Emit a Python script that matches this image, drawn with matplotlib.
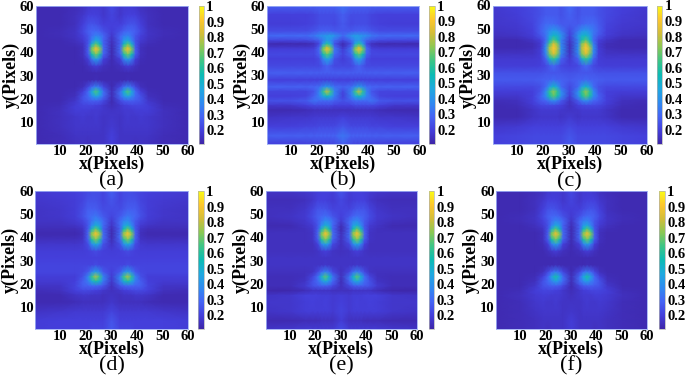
import numpy as np
import matplotlib
matplotlib.use('Agg')
import matplotlib.pyplot as plt
from matplotlib.colors import LinearSegmentedColormap

plt.rcParams['font.family'] = ['Liberation Serif', 'DejaVu Serif']

# nodes of the tables below: left half of each map, right half is its mirror
x_half = [0.5, 10, 16, 19, 21, 22.5, 24, 25.5, 27, 30.25]
y_nodes = [60, 56, 52, 49, 47, 45, 43.5, 42, 41, 39, 37, 34, 31, 28, 25, 23, 21, 19, 17, 15, 12, 8, 4, 0.5]

# values, in hundredths
panel_a = [
    [13, 13, 14, 15, 17, 18, 18, 18, 17, 22],
    [13, 13, 15, 17, 20, 20, 20, 19, 17, 21],
    [13, 13, 15, 20, 24, 25, 24, 22, 20, 20],
    [13, 14, 16, 22, 27, 29, 30, 28, 24, 19],
    [13, 14, 16, 20, 25, 31, 36, 34, 29, 17],
    [13, 13, 15, 18, 24, 36, 48, 42, 28, 15],
    [13, 13, 14, 16, 25, 50, 68, 54, 28, 14],
    [13, 13, 13, 15, 26, 68, 84, 70, 30, 13],
    [13, 13, 13, 15, 27, 72, 88, 74, 30, 13],
    [13, 13, 13, 15, 26, 56, 70, 58, 28, 13],
    [13, 13, 13, 14, 19, 34, 44, 36, 20, 13],
    [13, 13, 13, 13, 15, 17, 19, 17, 15, 13],
    [13, 13, 13, 13, 13, 13, 13, 13, 13, 13],
    [13, 13, 13, 13, 13, 13, 14, 13, 13, 13],
    [13, 13, 13, 15, 22, 30, 36, 31, 22, 13],
    [13, 13, 14, 20, 30, 48, 66, 50, 31, 14],
    [13, 13, 15, 24, 30, 38, 46, 40, 30, 14],
    [13, 13, 17, 24, 26, 27, 27, 26, 22, 13],
    [13, 14, 19, 21, 21, 21, 20, 19, 17, 14],
    [13, 15, 19, 19, 19, 18, 18, 18, 17, 16],
    [13, 15, 17, 18, 17, 17, 18, 17, 16, 17],
    [13, 15, 17, 17, 17, 17, 17, 17, 16, 18],
    [13, 14, 16, 16, 16, 16, 16, 16, 16, 20],
    [13, 14, 15, 16, 15, 16, 16, 16, 16, 20],
]
panel_b = [
    [27, 27, 27, 27, 28, 28, 28, 28, 28, 32],
    [20, 20, 20, 21, 23, 23, 23, 23, 23, 27],
    [19, 19, 20, 21, 23, 23, 23, 23, 22, 26],
    [23, 23, 23, 25, 27, 28, 28, 27, 26, 26],
    [30, 30, 30, 33, 38, 40, 42, 44, 40, 30],
    [21, 21, 22, 24, 27, 34, 42, 38, 30, 21],
    [13, 13, 13, 15, 22, 42, 60, 46, 24, 13],
    [17, 17, 17, 18, 28, 66, 82, 68, 30, 16],
    [20, 20, 20, 21, 30, 72, 88, 74, 33, 19],
    [22, 22, 22, 22, 28, 56, 68, 58, 30, 21],
    [20, 20, 20, 20, 23, 36, 46, 38, 24, 19],
    [22, 22, 22, 22, 22, 25, 28, 25, 22, 22],
    [27, 27, 27, 27, 27, 27, 27, 27, 27, 27],
    [20, 20, 20, 20, 20, 20, 20, 20, 20, 20],
    [28, 28, 28, 29, 31, 37, 42, 37, 31, 28],
    [21, 21, 21, 25, 36, 62, 80, 64, 36, 21],
    [20, 20, 21, 28, 36, 46, 54, 46, 34, 20],
    [24, 24, 26, 32, 30, 30, 30, 30, 27, 24],
    [17, 17, 20, 22, 22, 22, 22, 22, 20, 20],
    [13, 13, 14, 15, 15, 15, 15, 15, 15, 15],
    [16, 17, 17, 18, 18, 18, 18, 18, 18, 20],
    [20, 20, 21, 21, 22, 22, 22, 22, 22, 25],
    [27, 27, 27, 27, 28, 28, 28, 28, 28, 33],
    [20, 20, 20, 21, 21, 21, 21, 21, 22, 27],
]
panel_c = [
    [18, 20, 22, 24, 26, 26, 26, 26, 24, 30],
    [17, 19, 22, 24, 26, 26, 26, 26, 24, 28],
    [17, 18, 21, 26, 30, 30, 30, 28, 26, 26],
    [16, 17, 20, 27, 33, 38, 42, 40, 33, 22],
    [15, 16, 19, 25, 32, 44, 52, 50, 40, 20],
    [13, 13, 16, 20, 30, 52, 68, 58, 36, 17],
    [13, 13, 14, 18, 34, 66, 84, 72, 36, 15],
    [13, 13, 14, 18, 38, 76, 90, 78, 38, 15],
    [14, 14, 15, 19, 38, 78, 90, 78, 38, 15],
    [16, 16, 16, 19, 36, 70, 84, 72, 36, 16],
    [18, 18, 18, 19, 28, 50, 62, 50, 28, 18],
    [19, 19, 19, 20, 22, 26, 30, 26, 22, 20],
    [24, 24, 24, 24, 25, 25, 25, 25, 25, 24],
    [26, 26, 26, 27, 28, 28, 30, 28, 28, 26],
    [22, 22, 22, 24, 30, 42, 52, 44, 30, 22],
    [19, 19, 20, 25, 38, 62, 74, 62, 38, 21],
    [17, 17, 20, 28, 38, 58, 68, 58, 38, 19],
    [14, 15, 20, 26, 29, 34, 38, 34, 26, 16],
    [13, 14, 18, 21, 22, 22, 22, 21, 20, 15],
    [13, 13, 16, 18, 18, 18, 18, 18, 17, 16],
    [13, 13, 16, 17, 17, 17, 17, 17, 16, 18],
    [17, 18, 20, 20, 20, 20, 20, 20, 20, 22],
    [20, 21, 22, 22, 22, 22, 22, 22, 22, 25],
    [20, 21, 22, 22, 22, 22, 22, 22, 22, 26],
]
panel_d = [
    [18, 19, 20, 21, 22, 23, 23, 23, 21, 27],
    [17, 18, 19, 21, 24, 24, 24, 23, 21, 25],
    [16, 17, 19, 23, 27, 27, 27, 25, 23, 23],
    [16, 17, 19, 24, 29, 31, 33, 30, 26, 21],
    [16, 16, 18, 21, 26, 32, 38, 36, 30, 18],
    [15, 15, 16, 18, 25, 38, 50, 44, 30, 16],
    [14, 14, 14, 16, 26, 52, 70, 56, 28, 14],
    [13, 13, 13, 15, 28, 70, 86, 72, 30, 13],
    [13, 13, 13, 15, 28, 74, 88, 76, 31, 13],
    [15, 15, 15, 16, 27, 58, 72, 60, 29, 14],
    [17, 17, 17, 18, 23, 38, 48, 40, 24, 16],
    [19, 19, 19, 19, 20, 21, 23, 21, 20, 19],
    [20, 20, 20, 20, 20, 20, 20, 20, 20, 20],
    [21, 21, 21, 21, 21, 21, 23, 21, 21, 21],
    [21, 21, 21, 22, 26, 36, 44, 37, 26, 20],
    [19, 19, 19, 24, 36, 62, 78, 64, 36, 18],
    [18, 18, 20, 27, 34, 48, 58, 50, 33, 17],
    [16, 16, 21, 27, 28, 29, 30, 28, 25, 15],
    [14, 15, 20, 22, 22, 21, 20, 19, 17, 15],
    [13, 13, 16, 17, 17, 16, 16, 16, 15, 16],
    [13, 13, 14, 15, 15, 15, 15, 15, 15, 17],
    [16, 17, 18, 18, 18, 18, 18, 18, 18, 21],
    [19, 20, 20, 20, 20, 20, 20, 20, 20, 25],
    [19, 20, 20, 20, 20, 21, 21, 21, 21, 26],
]
panel_e = [
    [16, 16, 17, 18, 19, 20, 20, 20, 19, 25],
    [14, 14, 15, 17, 20, 20, 20, 19, 18, 22],
    [15, 15, 17, 21, 25, 25, 25, 23, 21, 21],
    [15, 16, 18, 23, 27, 29, 31, 29, 25, 20],
    [14, 15, 17, 21, 26, 32, 38, 36, 30, 18],
    [13, 13, 16, 18, 25, 38, 50, 44, 29, 14],
    [14, 14, 15, 17, 26, 52, 70, 56, 28, 13],
    [15, 15, 15, 16, 28, 68, 86, 72, 30, 14],
    [15, 15, 15, 16, 28, 72, 88, 74, 31, 15],
    [15, 15, 15, 16, 26, 58, 72, 60, 28, 15],
    [15, 15, 15, 15, 20, 36, 46, 38, 22, 15],
    [15, 15, 15, 15, 16, 18, 20, 18, 16, 15],
    [16, 16, 16, 16, 16, 16, 16, 16, 16, 16],
    [16, 16, 16, 16, 16, 16, 17, 16, 16, 16],
    [15, 15, 15, 16, 22, 30, 36, 31, 22, 15],
    [14, 14, 15, 21, 31, 50, 68, 52, 32, 15],
    [14, 14, 16, 24, 30, 39, 48, 40, 29, 14],
    [14, 14, 18, 24, 26, 27, 27, 26, 22, 15],
    [12, 12, 14, 16, 16, 16, 16, 16, 15, 15],
    [16, 17, 20, 20, 20, 19, 19, 19, 18, 19],
    [17, 17, 19, 20, 19, 19, 20, 19, 18, 20],
    [16, 17, 19, 19, 19, 19, 19, 19, 18, 21],
    [13, 13, 14, 14, 14, 15, 15, 15, 15, 19],
    [16, 17, 18, 18, 18, 18, 18, 18, 18, 23],
]
panel_f = [
    [13, 13, 14, 15, 17, 18, 18, 18, 17, 22],
    [13, 13, 15, 17, 20, 20, 20, 19, 17, 21],
    [13, 13, 15, 20, 24, 25, 24, 22, 20, 19],
    [13, 14, 16, 22, 27, 29, 30, 28, 24, 18],
    [13, 14, 16, 20, 25, 31, 36, 34, 29, 16],
    [13, 13, 15, 18, 24, 36, 48, 42, 28, 14],
    [13, 13, 14, 16, 25, 50, 68, 54, 28, 13],
    [13, 13, 13, 15, 26, 68, 84, 70, 30, 13],
    [13, 13, 13, 15, 27, 72, 86, 74, 30, 13],
    [13, 13, 13, 15, 26, 56, 70, 58, 28, 13],
    [13, 13, 13, 14, 19, 34, 44, 36, 20, 13],
    [13, 13, 13, 13, 15, 17, 19, 17, 15, 13],
    [13, 13, 13, 13, 13, 13, 13, 13, 13, 13],
    [13, 13, 13, 13, 13, 13, 14, 13, 13, 13],
    [13, 13, 13, 15, 22, 29, 34, 30, 22, 13],
    [13, 13, 14, 20, 29, 44, 58, 46, 30, 14],
    [13, 13, 15, 24, 30, 36, 44, 38, 30, 14],
    [13, 13, 17, 24, 26, 27, 27, 26, 22, 13],
    [13, 14, 19, 21, 21, 21, 20, 19, 17, 14],
    [13, 15, 18, 19, 19, 18, 18, 18, 17, 15],
    [13, 14, 17, 18, 17, 17, 18, 17, 16, 16],
    [13, 14, 16, 17, 17, 17, 17, 17, 16, 17],
    [13, 14, 15, 16, 16, 16, 16, 16, 16, 19],
    [13, 14, 15, 16, 15, 16, 16, 16, 16, 19],
]

letters = ['(a)', '(b)', '(c)', '(d)', '(e)', '(f)']
xy_ticks = [10, 20, 30, 40, 50, 60]
cb_ticks = [0.2, 0.3, 0.4, 0.5, 0.6, 0.7, 0.8, 0.9, 1]
cb_labels = ['0.2', '0.3', '0.4', '0.5', '0.6', '0.7', '0.8', '0.9', '1']

# parula
parula = LinearSegmentedColormap.from_list('parula', [
    '#3E26A8', '#4440DC', '#4565F5', '#2F8BF0', '#1FA9DF', '#0CBBB4',
    '#3CC587', '#8AC855', '#D2BD3A', '#FDC72E', '#F9FB15'])

W, H = 685.0, 376.0
# left, right, top, bottom of map, then colorbar left, right, in pixels
boxes = [
    (35.7, 188, 6, 144, 198.5, 204),
    (266.7, 419.3, 5.7, 144, 429.3, 435),
    (492.7, 646.7, 5.5, 144, 656.7, 662.3),
    (35.3, 188, 191, 329, 198.3, 204),
    (265.7, 416.7, 191, 329, 428.7, 434.3),
    (496, 646.7, 191, 329, 659, 665),
]

fig = plt.figure(figsize=(6.85, 3.76), dpi=100)

panels = [panel_a, panel_b, panel_c, panel_d, panel_e, panel_f]
x_nodes = np.array(x_half + [60.5 - v for v in x_half[-2::-1]])

for i in range(6):
    l, r, t, b, cl, cr = boxes[i]
    half = np.array(panels[i]) / 100.0
    full = np.hstack([half, half[:, -2::-1]])

    ax = fig.add_axes([l / W, 1 - b / H, (r - l) / W, (b - t) / H])
    mesh = ax.pcolormesh(x_nodes, y_nodes, full, shading='gouraud', cmap=parula, vmin=0.11, vmax=1)
    ax.set_xlim(0.5, 60)
    ax.set_ylim(0.5, 60)
    ax.set_xticks(xy_ticks)
    ax.set_yticks(xy_ticks)
    ax.tick_params(length=0, labelsize=10.5, pad=1)
    for lab in ax.get_xticklabels() + ax.get_yticklabels():
        lab.set_fontweight('bold')
    for s in ax.spines.values():
        s.set_color('#9fb0f5')
        s.set_linewidth(0.6)
    ax.set_xlabel('x(Pixels)', fontsize=13, fontweight='bold', labelpad=-2)
    ax.set_ylabel('y(Pixels)', fontsize=13, fontweight='bold', labelpad=0)
    ax.text(0.5, -0.27, letters[i], transform=ax.transAxes, ha='center', va='center', fontsize=16)

    cax = fig.add_axes([cl / W, 1 - b / H, (cr - cl) / W, (b - t) / H])
    cb = fig.colorbar(mesh, cax=cax, ticks=cb_ticks)
    cb.set_ticklabels(cb_labels)
    cb.ax.tick_params(length=0, labelsize=10.5, pad=1.5)
    cb.outline.set_edgecolor('#b0b0b0')
    cb.outline.set_linewidth(0.5)
    for lab in cb.ax.get_yticklabels():
        lab.set_fontweight('bold')

fig.savefig('out.png', dpi=100)
